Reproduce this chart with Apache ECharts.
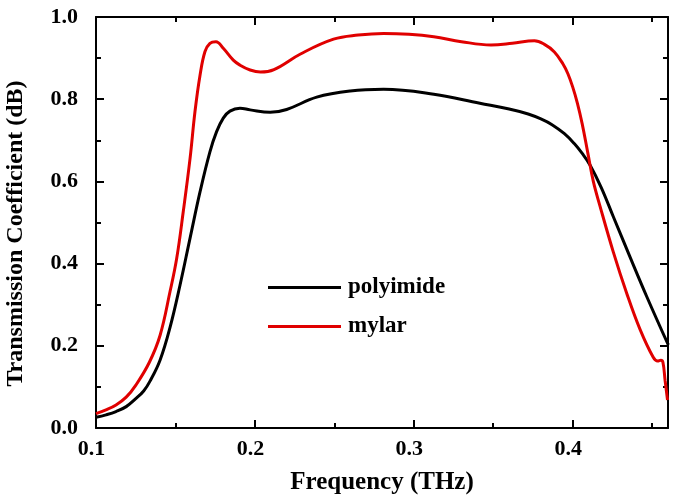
<!DOCTYPE html>
<html>
<head>
<meta charset="utf-8">
<script src="https://cdn.jsdelivr.net/npm/echarts@6/dist/echarts.min.js"></script>
<style>html,body{margin:0;padding:0;background:#fff}#c{width:675px;height:497px}</style>
</head>
<body>
<div id="c"></div>
<script>
var seriesNames = ['polyimide', 'mylar'];
var xTicks = [0.1, 0.2, 0.3, 0.4];
var yTicks = [0.0, 0.2, 0.4, 0.6, 0.8, 1.0];

var polyimideFreq = [0.100,0.1063,0.1126,0.119,0.1252,0.130,0.134,0.1403,0.1466,0.1529,0.1592,0.1655,0.1717,0.1759,0.1801,0.1843,0.1906,0.197,0.2096,0.220,0.2389,0.260,0.281,0.3126,0.3416,0.360,0.372,0.380,0.387,0.3948,0.401,0.406,0.4109,0.418,0.4256,0.436,0.4466,0.4602];
var polyimideVal  = [0.026,0.032,0.040,0.052,0.072,0.090,0.114,0.165,0.245,0.348,0.462,0.575,0.672,0.721,0.754,0.771,0.778,0.774,0.768,0.775,0.805,0.820,0.824,0.812,0.790,0.776,0.764,0.752,0.738,0.716,0.692,0.668,0.640,0.585,0.514,0.417,0.320,0.202];

var mylarFreq = [0.100,0.1063,0.1126,0.119,0.1252,0.1336,0.1403,0.1466,0.1508,0.1549,0.1592,0.1623,0.1655,0.1686,0.1717,0.1755,0.1801,0.1864,0.1906,0.197,0.2035,0.212,0.2287,0.2495,0.265,0.281,0.297,0.3126,0.330,0.3486,0.362,0.3759,0.382,0.3885,0.394,0.397,0.400,0.403,0.406,0.4095,0.413,0.4172,0.4256,0.434,0.4424,0.4507,0.4535,0.4555,0.4568,0.4582,0.4597];
var mylarVal  = [0.035,0.044,0.056,0.075,0.105,0.160,0.225,0.332,0.413,0.526,0.656,0.770,0.859,0.916,0.936,0.940,0.924,0.895,0.883,0.871,0.866,0.872,0.910,0.946,0.956,0.960,0.958,0.952,0.940,0.932,0.936,0.942,0.934,0.915,0.885,0.862,0.830,0.790,0.740,0.670,0.600,0.540,0.428,0.328,0.240,0.172,0.163,0.165,0.160,0.115,0.068];

function pairs(xs, ys){ return xs.map(function(x,i){ return [x, ys[i]]; }); }

var font = '"Liberation Serif", "Times New Roman", serif';
var chart = echarts.init(document.getElementById('c'), null, {renderer:'canvas'});
var axisLine = {show:true, onZero:false, lineStyle:{color:'#000', width:2}};
var tick = {show:true, inside:true, length:8, lineStyle:{color:'#000', width:2}};
var minor = {show:true, splitNumber:2, length:5, lineStyle:{color:'#000', width:2}};

chart.setOption({
  animation:false,
  backgroundColor:'#fff',
  grid:{left:96, top:17, right:7, bottom:69, containLabel:false, outerBoundsMode:'none'},
  legend:{
    orient:'vertical', left:263, top:271, itemWidth:73, itemHeight:3, itemGap:16,
    icon:'rect',
    textStyle:{fontFamily:font, fontWeight:'bold', fontSize:23, color:'#000', padding:[0,0,0,2]},
    data:seriesNames
  },
  xAxis:[{
    type:'value', min:0.1, max:0.46, interval:0.1,
    name:'Frequency (THz)', nameLocation:'middle', nameGap:42,
    nameTextStyle:{fontFamily:font, fontWeight:'bold', fontSize:25, color:'#000'},
    axisLine:axisLine, axisTick:tick, minorTick:minor,
    axisLabel:{fontFamily:font, fontWeight:'bold', fontSize:22, color:'#000', margin:10, padding:[0,9,0,0],
      formatter:function(v){ return xTicks.some(function(t){return Math.abs(t-v)<1e-9;}) ? v.toFixed(1) : ''; }},
    splitLine:{show:false}
  },{
    type:'value', position:'top', min:0.1, max:0.46, interval:0.1,
    axisLine:axisLine, axisTick:tick, minorTick:minor, axisLabel:{show:false}, splitLine:{show:false}
  }],
  yAxis:[{
    type:'value', min:0, max:1.0, interval:0.2,
    name:'Transmission Coefficient (dB)', nameLocation:'middle', nameGap:68,
    nameTextStyle:{fontFamily:font, fontWeight:'bold', fontSize:24, color:'#000', padding:[0,0,0,-22]},
    axisLine:axisLine, axisTick:tick, minorTick:minor,
    axisLabel:{fontFamily:font, fontWeight:'bold', fontSize:22, color:'#000', margin:18, padding:[0,0,7,0],
      formatter:function(v){ return v.toFixed(1); }},
    splitLine:{show:false}
  },{
    type:'value', position:'right', min:0, max:1.0, interval:0.2,
    axisLine:axisLine, axisTick:tick, minorTick:minor, axisLabel:{show:false}, splitLine:{show:false}
  }],
  series:[{
    name:'polyimide', type:'line', xAxisIndex:0, yAxisIndex:0,
    data:pairs(polyimideFreq, polyimideVal), smooth:0.4, showSymbol:false,
    lineStyle:{color:'#000', width:3}, itemStyle:{color:'#000'}
  },{
    name:'mylar', type:'line', xAxisIndex:0, yAxisIndex:0,
    data:pairs(mylarFreq, mylarVal), smooth:0.4, showSymbol:false,
    lineStyle:{color:'#e00000', width:3}, itemStyle:{color:'#e00000'}
  }]
});
</script>
</body>
</html>
